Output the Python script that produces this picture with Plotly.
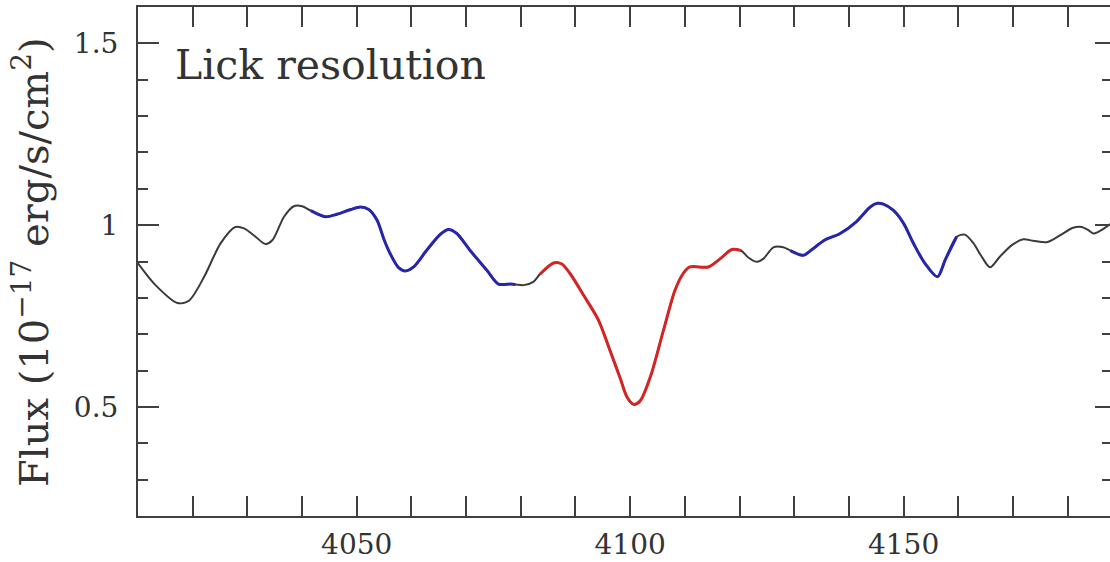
import plotly.graph_objects as go

# Smoothed spectrum around H-delta (wavelength in Angstrom, flux in 1e-17 erg/s/cm^2)
wave = [
    4010.0, 4013.2, 4017.2, 4019.3, 4022.1, 4025.1, 4027.8, 4029.4, 4031.5, 4033.3,
    4034.6, 4036.7, 4038.5, 4040.0, 4041.6, 4044.3, 4046.4, 4048.9, 4050.7, 4052.2,
    4053.7, 4055.0, 4056.1, 4057.6, 4058.9, 4060.4, 4062.8, 4065.3, 4066.8, 4068.3,
    4070.7, 4073.8, 4075.9, 4078.1, 4079.0, 4080.5, 4082.3, 4083.5, 4086.0, 4087.5,
    4089.0, 4091.5, 4094.2, 4096.3, 4098.2, 4099.4, 4100.6, 4101.8, 4103.7, 4106.1,
    4108.2, 4109.7, 4110.9, 4114.3, 4116.5, 4118.6, 4120.3, 4121.6, 4123.2, 4124.4,
    4126.2, 4128.0, 4129.3, 4131.7, 4133.5, 4135.6, 4138.4, 4141.4, 4143.9, 4145.2,
    4146.3, 4148.1, 4150.0, 4151.8, 4153.9, 4156.2, 4157.6, 4159.7, 4161.2, 4162.8,
    4164.3, 4165.8, 4167.6, 4169.8, 4171.9, 4173.7, 4176.2, 4178.6, 4181.0, 4182.6,
    4183.8, 4184.7, 4185.9, 4187.8,
]
flux = [
    0.895, 0.835, 0.786, 0.792, 0.858, 0.950, 0.995, 0.991, 0.968, 0.948,
    0.959, 1.023, 1.052, 1.052, 1.040, 1.023, 1.030, 1.043, 1.050, 1.043,
    1.014, 0.960, 0.922, 0.884, 0.874, 0.885, 0.931, 0.975, 0.988, 0.977,
    0.931, 0.876, 0.838, 0.838, 0.837, 0.835, 0.844, 0.865, 0.896, 0.893,
    0.867, 0.807, 0.739, 0.656, 0.578, 0.528, 0.507, 0.516, 0.583, 0.711,
    0.821, 0.867, 0.885, 0.885, 0.908, 0.933, 0.930, 0.911, 0.899, 0.908,
    0.939, 0.939, 0.930, 0.917, 0.936, 0.959, 0.977, 1.010, 1.050, 1.060,
    1.058, 1.041, 1.005, 0.950, 0.895, 0.858, 0.904, 0.968, 0.974, 0.950,
    0.913, 0.884, 0.913, 0.945, 0.961, 0.957, 0.953, 0.972, 0.993, 0.995,
    0.986, 0.977, 0.984, 1.003,
]

# Index passbands: (start, end) and highlight colour
blue_continuum = (4041.6, 4079.0)
feature_band = (4083.5, 4120.3)
red_continuum = (4129.3, 4159.7)
bands = [
    (blue_continuum, "#2626aa"),
    (feature_band, "#d42424"),
    (red_continuum, "#2626aa"),
]

x_range = [4010, 4187.75]
y_range = [0.2, 1.6]
x_ticks = [4050, 4100, 4150]
y_ticks = [0.5, 1.0, 1.5]
y_tick_labels = ["0.5", "1", "1.5"]

FONT = "DejaVu Serif"
AXIS_COLOR = "#404040"
TEXT_COLOR = "#333333"

fig = go.Figure()

# Full spectrum in dark grey
fig.add_trace(go.Scatter(
    x=wave, y=flux, mode="lines",
    line=dict(color="#3a3a3a", width=2, shape="spline", smoothing=0.8),
    showlegend=False, hoverinfo="skip",
))

# Passband portions highlighted on top
for (lo, hi), color in bands:
    seg = [(w, f) for w, f in zip(wave, flux) if lo <= w <= hi]
    fig.add_trace(go.Scatter(
        x=[s[0] for s in seg], y=[s[1] for s in seg], mode="lines",
        line=dict(color=color, width=3, shape="spline", smoothing=0.8),
        showlegend=False, hoverinfo="skip",
    ))

# Transparent copy bound to the right-hand tick axis so that axis is drawn
fig.add_trace(go.Scatter(
    x=wave, y=flux, mode="lines", yaxis="y2",
    line=dict(width=0), opacity=0, showlegend=False, hoverinfo="skip",
))

tick_font = dict(family=FONT, size=28, color=TEXT_COLOR)
minor_y = dict(dtick=0.1, tick0=0, ticks="inside", ticklen=10,
               tickcolor=AXIS_COLOR, tickwidth=2)

fig.update_layout(
    xaxis=dict(
        range=x_range, tickvals=x_ticks, ticks="inside", ticklen=20,
        tickcolor=AXIS_COLOR, tickwidth=2, tickfont=tick_font,
        ticklabelstandoff=2,
        showline=True, linecolor=AXIS_COLOR, linewidth=2, mirror="allticks",
        showgrid=False, zeroline=False,
        minor=dict(dtick=10, tick0=4000, ticks="inside", ticklen=10,
                   tickcolor=AXIS_COLOR, tickwidth=2),
    ),
    yaxis=dict(
        range=y_range, tickvals=y_ticks, ticktext=y_tick_labels,
        ticks="inside", ticklen=21, tickcolor=AXIS_COLOR, tickwidth=2,
        tickfont=tick_font, ticklabelstandoff=12,
        showline=True, linecolor=AXIS_COLOR, linewidth=2, mirror=False,
        showgrid=False, zeroline=False, minor=minor_y,
    ),
    yaxis2=dict(
        overlaying="y", side="right", range=y_range, tickvals=y_ticks,
        ticks="inside", ticklen=15, tickcolor=AXIS_COLOR, tickwidth=2,
        showticklabels=False, showline=False, showgrid=False, zeroline=False,
        minor=dict(dtick=0.1, tick0=0, ticks="inside", ticklen=8,
                   tickcolor=AXIS_COLOR, tickwidth=2),
    ),
    width=1110, height=562,
    margin=dict(l=138, r=0, t=7, b=46, autoexpand=False),
    paper_bgcolor="white", plot_bgcolor="white",
)

fig.add_annotation(
    text="Lick resolution", xref="x", yref="y", x=4016.4, y=1.44,
    xanchor="left", yanchor="middle", showarrow=False,
    font=dict(family=FONT, size=41, color=TEXT_COLOR),
)

fig.add_annotation(
    text="Flux (10<sup>−17</sup> erg/s/cm<sup>2</sup>)",
    xref="paper", yref="paper", x=-0.1107, y=0.5,
    xanchor="center", yanchor="middle", textangle=-90, showarrow=False,
    font=dict(family=FONT, size=40, color=TEXT_COLOR),
)

fig.write_html("out.html")
